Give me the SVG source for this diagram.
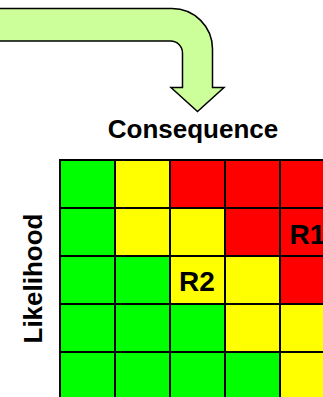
<svg xmlns="http://www.w3.org/2000/svg" width="323" height="397" viewBox="0 0 323 397">
  <style>
    .lbl { font-family: "Liberation Sans", Arial, sans-serif; font-weight: bold; fill: #000; }
    .cell { stroke: #000; stroke-width: 2; }
    .g { fill: #00FF00; }
    .y { fill: #FFFF00; }
    .r { fill: #FF0000; }
  </style>
  <rect width="323" height="397" fill="#fff"/>

  <!-- bent flow arrow pointing down into the matrix -->
  <g id="arrow">
    <path d="M -5,8.5 H 172 A 40.5 40.5 0 0 1 212.5 49 V 87.5 H 224 L 197.5 111.5 L 171 87.5 H 182.5 V 53 A 12 12 0 0 0 170.5 41 H -5 Z"
          fill="#CCFF99" stroke="#000" stroke-width="1.5" stroke-linejoin="miter"/>
  </g>

  <g id="consequence-label">
    <text class="lbl" x="193" y="138" font-size="26" text-anchor="middle">Consequence</text>
  </g>

  <g id="likelihood-label">
    <text class="lbl" x="0" y="0" font-size="26" text-anchor="middle" transform="translate(42,278.5) rotate(-90)">Likelihood</text>
  </g>

  <!-- 5x5 risk matrix, rows top to bottom -->
  <g id="matrix">
    <rect class="cell g" x="60" y="160" width="55" height="48"/>
    <rect class="cell y" x="115" y="160" width="55" height="48"/>
    <rect class="cell r" x="170" y="160" width="55" height="48"/>
    <rect class="cell r" x="225" y="160" width="55" height="48"/>
    <rect class="cell r" x="280" y="160" width="55" height="48"/>

    <rect class="cell g" x="60" y="208" width="55" height="48"/>
    <rect class="cell y" x="115" y="208" width="55" height="48"/>
    <rect class="cell y" x="170" y="208" width="55" height="48"/>
    <rect class="cell r" x="225" y="208" width="55" height="48"/>
    <rect class="cell r" x="280" y="208" width="55" height="48"/>

    <rect class="cell g" x="60" y="256" width="55" height="48"/>
    <rect class="cell g" x="115" y="256" width="55" height="48"/>
    <rect class="cell y" x="170" y="256" width="55" height="48"/>
    <rect class="cell y" x="225" y="256" width="55" height="48"/>
    <rect class="cell r" x="280" y="256" width="55" height="48"/>

    <rect class="cell g" x="60" y="304" width="55" height="48"/>
    <rect class="cell g" x="115" y="304" width="55" height="48"/>
    <rect class="cell g" x="170" y="304" width="55" height="48"/>
    <rect class="cell y" x="225" y="304" width="55" height="48"/>
    <rect class="cell y" x="280" y="304" width="55" height="48"/>

    <rect class="cell g" x="60" y="352" width="55" height="48"/>
    <rect class="cell g" x="115" y="352" width="55" height="48"/>
    <rect class="cell g" x="170" y="352" width="55" height="48"/>
    <rect class="cell g" x="225" y="352" width="55" height="48"/>
    <rect class="cell y" x="280" y="352" width="55" height="48"/>
  </g>

  <g id="risk-R1">
    <text class="lbl" x="307.5" y="244" font-size="28" text-anchor="middle">R1</text>
  </g>
  <g id="risk-R2">
    <text class="lbl" x="197" y="291" font-size="28" text-anchor="middle">R2</text>
  </g>
</svg>
